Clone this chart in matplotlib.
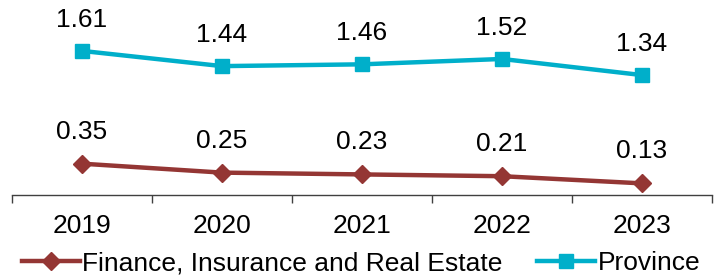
import numpy as np
import matplotlib.pyplot as plt

years = ['2019', '2020', '2021', '2022', '2023']
finance = [0.35, 0.25, 0.23, 0.21, 0.13]
province = [1.61, 1.44, 1.46, 1.52, 1.34]

plt.rcParams['font.family'] = ['Liberation Sans', 'DejaVu Sans']
fs = 19

fig = plt.figure(figsize=(7.22, 2.79), dpi=100)
ax = fig.add_axes([12 / 722, 1 - 195 / 279, 700 / 722, (195 - 16) / 279])

x = np.arange(len(years))
red = '#943634'
teal = '#00AFCA'
ax.plot(x, finance, color=red, lw=3.2, marker='D', ms=9, label='Finance, Insurance and Real Estate')
ax.plot(x, province, color=teal, lw=3.2, marker='s', ms=10, label='Province')

for xi, v in zip(x, finance):
    ax.annotate(f'{v:.2f}', (xi, v), xytext=(0, 23), textcoords='offset points',
                ha='center', va='center', fontsize=fs)
for xi, v in zip(x, province):
    ax.annotate(f'{v:.2f}', (xi, v), xytext=(0, 22.5), textcoords='offset points',
                ha='center', va='center', fontsize=fs)

ax.set_xlim(-0.5, len(years) - 0.5)
ax.set_ylim(0, 2.0)
ax.set_xticks(x)
ax.set_xticklabels(years, fontsize=fs)
ax.set_xticks(np.arange(-0.5, len(years)), minor=True)
ax.tick_params(axis='x', which='major', length=0, pad=14)
ax.tick_params(axis='x', which='minor', length=6, width=1, color='#404040', direction='out')
ax.set_yticks([])
for s in ['left', 'right', 'top']:
    ax.spines[s].set_visible(False)
ax.spines['bottom'].set_color('#404040')
ax.spines['bottom'].set_linewidth(1)

fig.legend(loc='center', bbox_to_anchor=(0.5, 1 - 263 / 279), ncol=2, frameon=False,
           fontsize=fs, handlelength=2.2, handletextpad=0.1, columnspacing=1.3,
           borderaxespad=0, borderpad=0)

fig.savefig('out.png', dpi=100)
